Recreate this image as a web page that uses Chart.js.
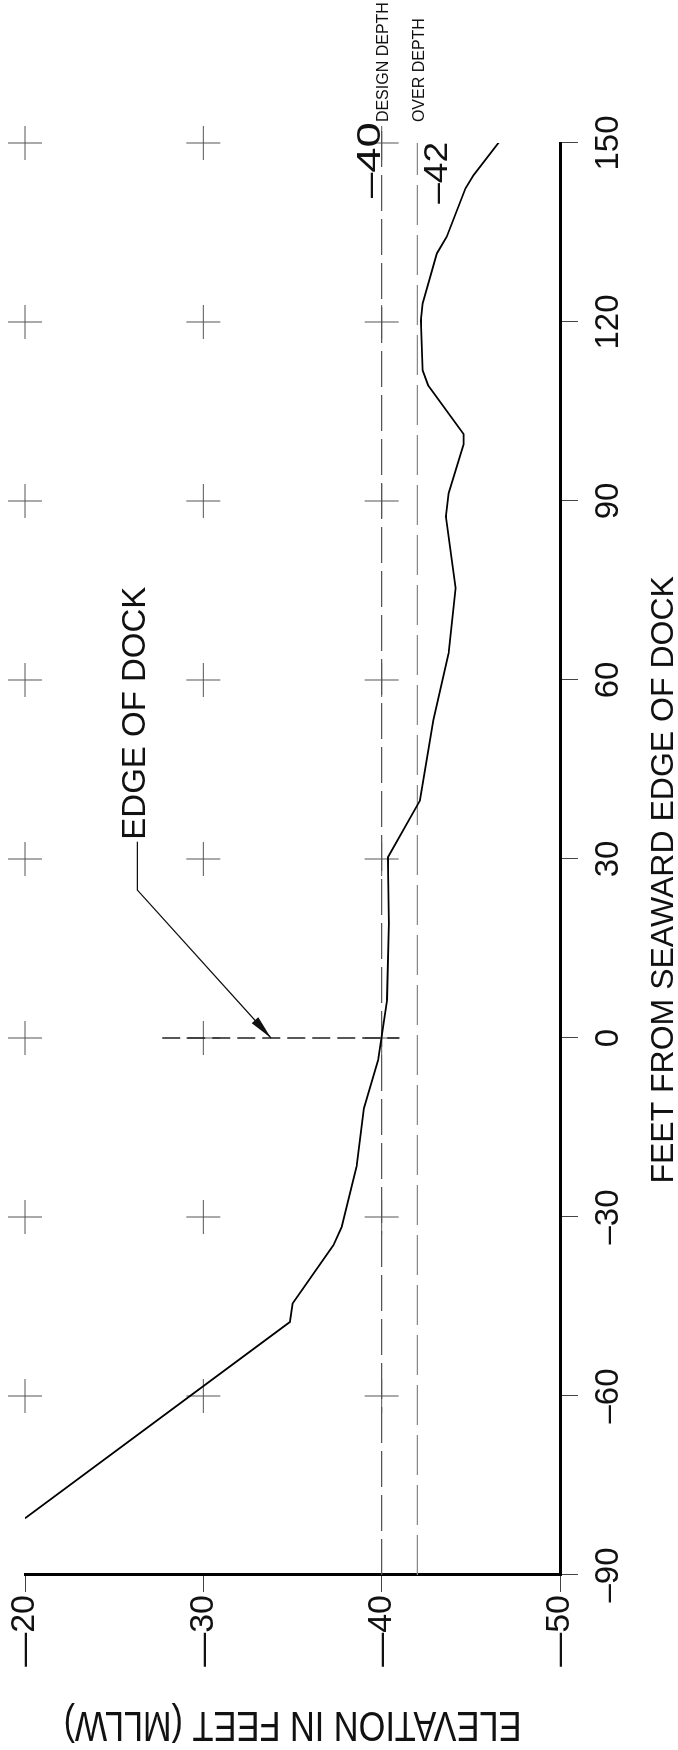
<!DOCTYPE html>
<html>
<head>
<meta charset="utf-8">
<script src="https://cdn.jsdelivr.net/npm/chart.js@4.4.1/dist/chart.umd.min.js"></script>
<style>
html, body { margin: 0; padding: 0; background: #fff; overflow: hidden; width: 678px; height: 1750px; }
/* the drawing is laid out landscape and turned a quarter turn to the left */
#wrap { position: absolute; left: 0; top: 1750px; width: 1750px; height: 678px; transform-origin: 0 0; transform: rotate(-90deg); }
canvas { display: block; }
</style>
</head>
<body>
<div id="wrap"><canvas id="profile" width="1750" height="678"></canvas></div>
<script>
var feetTicks = [-90, -60, -30, 0, 30, 60, 90, 120, 150];
var elevTicks = [-50, -40, -30, -20];

// bottom profile, feet from seaward edge of dock / elevation (MLLW)
var profileFeet = [-80.5, -47.6, -44.5, -34.7, -31.7, -21.5, -11.8, -3.7, 6.4, 19.2, 30.3, 39.8, 53.3, 64.5, 75.4, 87.4, 91.3, 99.5, 101.2, 109.4, 111.9, 120.3, 123.1, 131.5, 134.3, 142.4, 144.6, 150.2];
var profileElev = [-20.0, -34.85, -35.0, -37.3, -37.75, -38.6, -39.0, -39.8, -40.3, -40.4, -40.35, -42.15, -42.9, -43.75, -44.15, -43.6, -43.75, -44.6, -44.6, -42.6, -42.3, -42.2, -42.3, -43.1, -43.65, -44.7, -45.15, -46.6];

// grid crosses
var crossFeet = [-60, -30, 0, 30, 60, 90, 120, 150];
var crossElev = [-20, -30, -40];

var designDepth = -40;
var overDepth = -42;
var designLineFeet = [-90, 153];
var overLineFeet = [-90, 150];

// edge of dock marker and its leader
var dockFeet = 0;
var dockLineElev = [-27.7, -41.0];
var leaderFeet = [32.9, 24.8, 0];
var leaderElev = [-26.3, -26.3, -33.8];

var xTitle = 'FEET FROM SEAWARD EDGE OF DOCK';
var yTitle = 'ELEVATION IN FEET (MLLW)';

function pts(xs, ys) {
    return xs.map(function(v, i){ return {x: v, y: ys[i]}; });
}

var crossPts = [];
crossFeet.forEach(function(f){
    crossElev.forEach(function(e){ crossPts.push({x: f, y: e}); });
});

var FONT = "'Liberation Sans', Arial, sans-serif";
Chart.defaults.font.family = FONT;

// text squeezed or stretched along its run to a given width
function fitText(ctx, text, x, y, width, align) {
    var w = ctx.measureText(text).width;
    ctx.save();
    ctx.translate(x, y);
    ctx.scale(width / w, 1);
    ctx.textAlign = align;
    ctx.fillText(text, 0, 0);
    ctx.restore();
}

var notes = {
    id: 'notes',
    afterDatasetsDraw: function(chart) {
        var ctx = chart.ctx, sx = chart.scales.x, sy = chart.scales.y, ca = chart.chartArea;
        ctx.save();

        // arrow head at the end of the leader
        var n = leaderFeet.length;
        var tx = sx.getPixelForValue(leaderFeet[n-1]), ty = sy.getPixelForValue(leaderElev[n-1]);
        var fx = sx.getPixelForValue(leaderFeet[n-2]), fy = sy.getPixelForValue(leaderElev[n-2]);
        var a = Math.atan2(ty - fy, tx - fx), L = 24, W = 4.5;
        ctx.fillStyle = '#111';
        ctx.beginPath();
        ctx.moveTo(tx, ty);
        ctx.lineTo(tx - L*Math.cos(a) + W*Math.sin(a), ty - L*Math.sin(a) - W*Math.cos(a));
        ctx.lineTo(tx - L*Math.cos(a) - W*Math.sin(a), ty - L*Math.sin(a) + W*Math.cos(a));
        ctx.closePath();
        ctx.fill();

        ctx.font = '33px ' + FONT;
        ctx.textAlign = 'left';
        ctx.textBaseline = 'alphabetic';
        ctx.fillText('EDGE OF DOCK', sx.getPixelForValue(leaderFeet[0]) + 2, sy.getPixelForValue(leaderElev[0]) + 8);

        // depth labels
        ctx.font = '33px ' + FONT;
        fitText(ctx, '\u2013' + Math.abs(designDepth), sx.getPixelForValue(153.5), sy.getPixelForValue(designDepth) - 2, 76, 'right');
        fitText(ctx, '\u2013' + Math.abs(overDepth), sx.getPixelForValue(150.2), sy.getPixelForValue(overDepth) + 30, 62, 'right');

        ctx.font = '16px ' + FONT;
        ctx.textAlign = 'left';
        ctx.textBaseline = 'middle';
        ctx.fillText('DESIGN DEPTH', sx.getPixelForValue(153.5), sy.getPixelForValue(designDepth) + 2);
        ctx.fillText('OVER DEPTH', sx.getPixelForValue(153.5), sy.getPixelForValue(overDepth) + 2);

        // axis titles
        ctx.font = '32px ' + FONT;
        ctx.textAlign = 'center';
        ctx.textBaseline = 'alphabetic';
        ctx.fillText(xTitle, sx.getPixelForValue(26.5), chart.height - 5);

        ctx.font = '42px ' + FONT;
        ctx.textBaseline = 'middle';
        ctx.translate(26, (ca.top + ca.bottom) / 2);
        ctx.rotate(-Math.PI / 2);
        fitText(ctx, yTitle, 0, 0, 458, 'center');

        ctx.restore();
    }
};

new Chart(document.getElementById('profile'), {
    type: 'scatter',
    data: {
        datasets: [
            { data: pts(profileFeet, profileElev), showLine: true, borderColor: '#000', borderWidth: 1.8, pointRadius: 0, tension: 0 },
            { data: pts(leaderFeet, leaderElev), showLine: true, borderColor: '#111', borderWidth: 1.3, pointRadius: 0 },
            { data: pts([dockFeet, dockFeet], dockLineElev), showLine: true, borderColor: '#222', borderWidth: 1.5, borderDash: [18, 7], pointRadius: 0 },
            { data: pts(designLineFeet, [designDepth, designDepth]), showLine: true, borderColor: '#555', borderWidth: 1.2, borderDash: [36, 8], pointRadius: 0, clip: false },
            { data: pts(overLineFeet, [overDepth, overDepth]), showLine: true, borderColor: '#888', borderWidth: 1.2, borderDash: [40, 10], pointRadius: 0, clip: false },
            { data: crossPts, showLine: false, pointStyle: 'cross', pointRadius: 17, pointBorderColor: '#555', pointBorderWidth: 1, clip: false }
        ]
    },
    options: {
        responsive: false,
        animation: false,
        events: [],
        layout: { padding: { top: 25, right: 143, left: 0, bottom: 0 } },
        plugins: { legend: { display: false }, tooltip: { enabled: false } },
        scales: {
            x: {
                type: 'linear', position: 'bottom', min: -90, max: 150,
                afterBuildTicks: function(s){ s.ticks = feetTicks.map(function(v){ return {value: v}; }); },
                afterFit: function(s){ s.height = 118; },
                border: { display: true, color: '#000', width: 3 },
                grid: { drawOnChartArea: false, drawTicks: true, tickLength: 18, color: '#444', lineWidth: 1 },
                ticks: {
                    padding: 11, color: '#111', font: { size: 33 }, maxRotation: 0, autoSkip: false,
                    callback: function(v){ return v < 0 ? '\u2013' + (-v) : '' + v; }
                }
            },
            y: {
                type: 'linear', position: 'left', min: -50, max: -20,
                afterBuildTicks: function(s){ s.ticks = elevTicks.map(function(v){ return {value: v}; }); },
                afterFit: function(s){ s.width = 175; },
                border: { display: true, color: '#000', width: 3 },
                grid: { drawOnChartArea: false, drawTicks: true, tickLength: 17, color: '#444', lineWidth: 1 },
                ticks: {
                    padding: 3, color: '#111', font: { size: 34 },
                    callback: function(v){ return v < 0 ? '\u2014' + (-v) : '' + v; }
                }
            }
        }
    },
    plugins: [notes]
});
</script>
</body>
</html>
